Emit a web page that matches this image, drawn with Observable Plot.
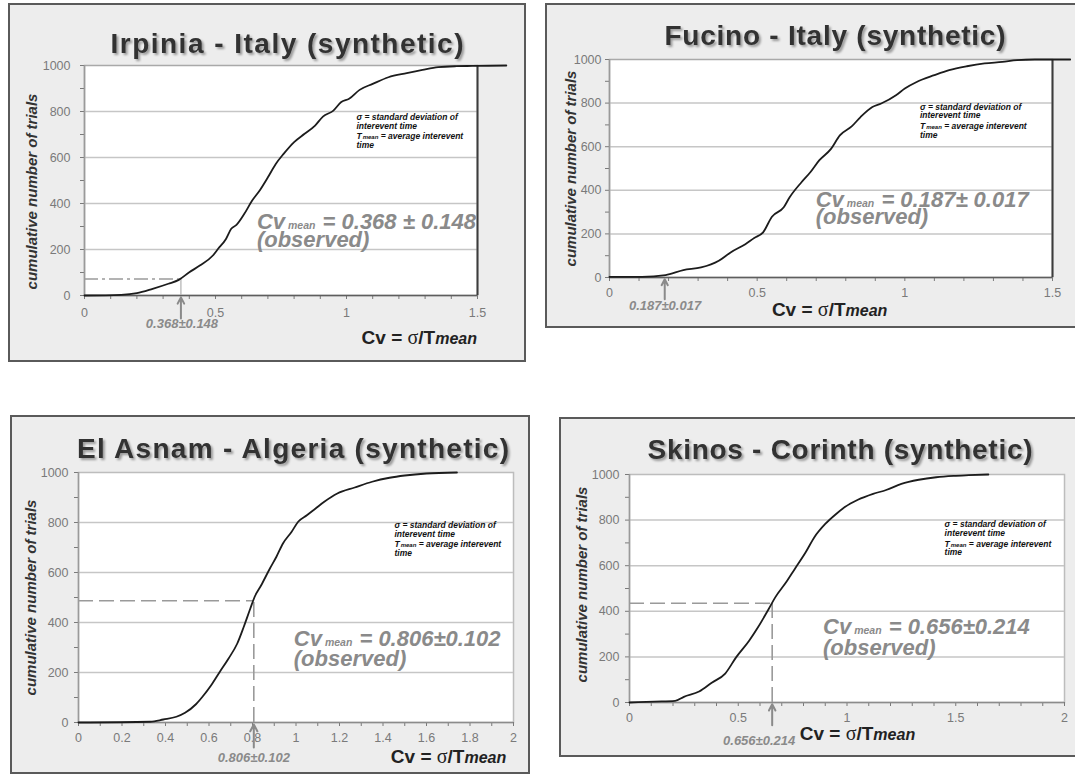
<!DOCTYPE html>
<html><head><meta charset="utf-8">
<script src="https://cdn.jsdelivr.net/npm/d3@7"></script>
<script src="https://cdn.jsdelivr.net/npm/@observablehq/plot@0.6"></script>
<style>
html,body{margin:0;padding:0;background:#fff;}
#page{position:relative;width:1075px;height:776px;overflow:hidden;}
.panel{position:absolute;box-sizing:border-box;background:#ededed;border:2px solid #5a5a5a;}
.chart{position:absolute;}
</style></head>
<body><div id="page"></div>
<script>
// ---------------- data ----------------
const panelTitles = ["Irpinia - Italy (synthetic)", "Fucino - Italy (synthetic)", "El Asnam - Algeria (synthetic)", "Skinos - Corinth (synthetic)"];
const yAxisTitle = "cumulative number of trials";

const irpiniaCv     = [0, 0.14, 0.2, 0.26, 0.32, 0.36, 0.4, 0.44, 0.49, 0.51, 0.54, 0.56, 0.58, 0.61, 0.64, 0.67, 0.7, 0.73, 0.76, 0.8, 0.84, 0.88, 0.91, 0.95, 0.98, 1.01, 1.05, 1.1, 1.16, 1.23, 1.29, 1.35, 1.42, 1.48, 1.61];
const irpiniaTrials = [0, 3, 10, 29, 51, 68, 101, 130, 174, 203, 246, 290, 307, 355, 413, 459, 514, 572, 616, 667, 703, 739, 778, 804, 841, 855, 894, 920, 949, 967, 981, 993, 997, 998, 1000];

const fucinoCv     = [0, 0.11, 0.19, 0.25, 0.31, 0.37, 0.41, 0.46, 0.49, 0.52, 0.55, 0.59, 0.61, 0.65, 0.68, 0.71, 0.75, 0.78, 0.82, 0.85, 0.89, 0.92, 0.97, 1.0, 1.04, 1.1, 1.15, 1.21, 1.27, 1.33, 1.38, 1.44, 1.56];
const fucinoTrials = [3, 3, 11, 34, 46, 77, 115, 153, 181, 207, 279, 322, 368, 437, 483, 537, 590, 652, 693, 736, 782, 798, 836, 867, 897, 928, 951, 969, 982, 989, 997, 1000, 1000];

const elAsnamCv     = [0, 0.33, 0.39, 0.45, 0.49, 0.54, 0.57, 0.61, 0.65, 0.69, 0.73, 0.76, 0.79, 0.81, 0.84, 0.88, 0.91, 0.94, 0.98, 1.01, 1.05, 1.09, 1.13, 1.19, 1.27, 1.35, 1.43, 1.5, 1.6, 1.74];
const elAsnamTrials = [0, 3, 12, 23, 39, 73, 103, 149, 203, 256, 316, 383, 456, 503, 549, 616, 663, 716, 763, 803, 829, 856, 883, 916, 940, 963, 979, 988, 996, 1000];

const skinosCv     = [0, 0.115, 0.21, 0.25, 0.32, 0.38, 0.44, 0.49, 0.55, 0.59, 0.64, 0.67, 0.72, 0.76, 0.81, 0.85, 0.9, 0.95, 0.99, 1.05, 1.12, 1.18, 1.25, 1.33, 1.41, 1.49, 1.56, 1.65];
const skinosTrials = [0, 4, 7, 25, 48, 88, 127, 198, 271, 329, 410, 461, 527, 586, 659, 725, 783, 827, 857, 889, 915, 932, 959, 977, 988, 994, 997, 1000];

const observedCv     = [0.368, 0.187, 0.806, 0.656];
const observedTrials = [72, 10, 487, 435];
const observedLabels = ["0.368±0.148", "0.187±0.017", "0.806±0.102", "0.656±0.214"];
const observedNotes  = ["0.368 ± 0.148", "0.187± 0.017", "0.806±0.102", "0.656±0.214"];

const yTicks      = [0, 100, 200, 300, 400, 500, 600, 700, 800, 900, 1000];
const yTickLabels = [0, 200, 400, 600, 800, 1000];
const gridValues  = [200, 400, 600, 800];
const xTicks15 = [0, 0.1, 0.2, 0.3, 0.4, 0.5, 0.6, 0.7, 0.8, 0.9, 1, 1.1, 1.2, 1.3, 1.4, 1.5];
const xTicks20 = [0, 0.1, 0.2, 0.3, 0.4, 0.5, 0.6, 0.7, 0.8, 0.9, 1, 1.1, 1.2, 1.3, 1.4, 1.5, 1.6, 1.7, 1.8, 1.9, 2];
const xLabels15     = [0, 0.5, 1, 1.5];
const xLabelsAsnam  = [0, 0.2, 0.4, 0.6, 0.8, 1, 1.2, 1.4, 1.6, 1.8, 2];
const xLabelsSkinos = [0, 0.5, 1, 1.5, 2];

const legendLine1 = "σ = standard deviation of";
const legendLine2 = "interevent time";
const legendLine3 = " = average interevent";
const legendLine4 = "time";

// ---------------- layout ----------------
const FONT = "'Liberation Sans', Arial, Helvetica, sans-serif";
const panels = [
  {i:0, cv:irpiniaCv, trials:irpiniaTrials, box:[8,3,518,359], m:[62,49,67,76], xDomain:[0,1.5], xTicks:xTicks15, xLabels:xLabels15,
   frame:"#a9a9a9", axis:"#5e5e5e", rightDark:true, title:[287,43,353], xPad:9, yPad:10,
   ref:{dash:"14,4,3,4", vert:"solid"}, obsLX:0.372, obsDy:32, yT:[-52,11],
   note:[0.66,286,17.4], legend:[1.04,761], xTitle:[1.5,49,"end"]},
  {i:1, cv:fucinoCv, trials:fucinoTrials, box:[545,3,540,325], m:[56,33,51,64], xDomain:[0,1.5], xTicks:xTicks15, xLabels:xLabels15,
   frame:"#a9a9a9", axis:"#5e5e5e", rightDark:true, title:[835,35,341], xPad:7, yPad:4,
   ref:null, obsLX:0.188, obsDy:32, yT:[-38,0],
   note:[0.70,322,17.3], legend:[1.053,767], xTitle:[0.747,39,"middle"]},
  {i:2, cv:elAsnamCv, trials:elAsnamTrials, box:[10,415,520,359], m:[57,17,52,68], xDomain:[0,2], xTicks:xTicks20, xLabels:xLabelsAsnam,
   frame:"#bdbdbd", axis:"#8c8c8c", rightDark:false, title:[293,448,432], xPad:7, yPad:6,
   ref:{dash:"15,6", vert:"dash"}, obsLX:0.806, obsDy:39.5, yT:[-47,0],
   note:[0.992,305,20.7], legend:[1.455,776], xTitle:[1.969,41,"end"]},
  {i:3, cv:skinosCv, trials:skinosTrials, box:[559,417,526,340], m:[57,21,55,70], xDomain:[0,2], xTicks:xTicks20, xLabels:xLabelsSkinos,
   frame:"#bdbdbd", axis:"#8c8c8c", rightDark:false, title:[840,449,385], xPad:7, yPad:6,
   ref:{dash:"15,6", vert:"dash"}, obsLX:0.596, obsDy:42.3, yT:[-47,-4],
   note:[0.892,300,21.7], legend:[1.451,766], xTitle:[0.785,38,"start"]}
];

const page = document.getElementById("page");
const fmt = d => String(+(+d).toFixed(2));

function drawPanel(P) {
  const [bl, bt, bw, bh] = P.box;
  const div = document.createElement("div");
  div.className = "panel";
  Object.assign(div.style, {left: bl + "px", top: bt + "px", width: bw + "px", height: bh + "px"});
  page.appendChild(div);

  const curve = P.cv.map((v, k) => ({cv: v, n: P.trials[k]}));
  const obs = [{v: observedCv[P.i], n: observedTrials[P.i], lx: P.obsLX, label: observedLabels[P.i], x0: P.xDomain[0], y0: 0}];
  const isLabeled = d => P.xLabels.some(l => Math.abs(l - d) < 1e-9);

  const marks = [
    Plot.frame({fill: "white", stroke: P.frame, strokeWidth: 1.5}),
    Plot.ruleY(gridValues, {stroke: "#c6c6c6", strokeWidth: 1.5}),
    Plot.axisY({ticks: yTicks, tickFormat: d => yTickLabels.includes(d) ? String(d) : "", tickSize: 4, tickPadding: P.yPad,
                fontSize: 12.5, color: "#7a7a7a", label: null}),
    Plot.axisX({ticks: P.xTicks, tickFormat: d => isLabeled(d) ? fmt(d) : "", tickSize: 4, tickPadding: P.xPad,
                fontSize: 12.5, color: "#7a7a7a", label: null}),
    Plot.ruleX([P.xDomain[0]], {stroke: "#9a9a9a", strokeWidth: 1.5}),
    Plot.ruleY([0], {stroke: P.axis, strokeWidth: 1.6})
  ];
  if (P.rightDark) marks.push(Plot.ruleX([P.xDomain[1]], {stroke: "#3c3c3c", strokeWidth: 2}));
  if (P.ref) {
    marks.push(Plot.ruleY(obs, {y: "n", x1: "x0", x2: "v", stroke: "#9a9a9a", strokeWidth: 1.6, strokeDasharray: P.ref.dash}));
    if (P.ref.vert === "dash")
      marks.push(Plot.ruleX(obs, {x: "v", y1: "y0", y2: "n", stroke: "#9a9a9a", strokeWidth: 1.6, strokeDasharray: P.ref.dash}));
    else
      marks.push(Plot.ruleX(obs, {x: "v", y1: "y0", y2: "n", stroke: "#b0b0b0", strokeWidth: 1.2}));
  }
  marks.push(Plot.arrow(obs, {x: "v", y1: -100, y2: -8, stroke: "#8a8a8a", strokeWidth: 2, headLength: 9, headAngle: 55}));
  marks.push(Plot.line(curve, {x: "cv", y: "n", stroke: "#1c1c1c", strokeWidth: 1.8, curve: "monotone-x"}));
  marks.push(Plot.text(obs, {x: "lx", text: "label", frameAnchor: "bottom", dy: P.obsDy, fontSize: 13,
                             fontWeight: "bold", fontStyle: "italic", fill: "#8a8a8a"}));
  marks.push(Plot.text([yAxisTitle], {frameAnchor: "left", textAnchor: "middle", lineAnchor: "middle", rotate: -90,
                                      dx: P.yT[0], dy: P.yT[1], fontSize: 15,
                                      fontWeight: "bold", fontStyle: "italic", fill: "#333"}));

  const chart = Plot.plot({
    width: bw, height: bh,
    marginTop: P.m[0], marginRight: P.m[1], marginBottom: P.m[2], marginLeft: P.m[3],
    style: {background: "transparent", fontFamily: FONT, overflow: "visible"},
    x: {domain: P.xDomain},
    y: {domain: [0, 1000]},
    marks
  });
  chart.classList.add("chart");
  chart.style.left = bl + "px";
  chart.style.top = bt + "px";
  page.appendChild(chart);

  const X = v => chart.scale("x").apply(v);
  const Y = v => chart.scale("y").apply(v);
  const svg = d3.select(chart);
  const fid = "shadow" + P.i;
  svg.append("defs").append("filter").attr("id", fid).attr("x", "-10%").attr("y", "-30%").attr("width", "120%").attr("height", "160%")
    .append("feDropShadow").attr("dx", 2).attr("dy", 2).attr("stdDeviation", 1.2)
    .attr("flood-color", "#000").attr("flood-opacity", 0.35);
  const g = svg.append("g").attr("font-family", FONT).attr("text-anchor", "start");

  // title
  g.append("text").attr("x", P.title[0] - bl).attr("y", P.title[1] - bt)
    .attr("text-anchor", "middle").attr("dominant-baseline", "central")
    .attr("font-size", 28).attr("font-weight", "bold").attr("fill", "#333")
    .attr("textLength", P.title[2]).attr("lengthAdjust", "spacing")
    .attr("filter", `url(#${fid})`).text(panelTitles[P.i]);

  // observed note (one text block, two lines)
  const nx = X(P.note[0]), ny = Y(P.note[1]);
  const t1 = g.append("text").attr("x", nx).attr("y", ny).attr("font-size", 22)
    .attr("font-weight", "bold").attr("font-style", "italic").attr("fill", "#8a8a8a");
  t1.append("tspan").text("Cv");
  t1.append("tspan").attr("dx", 3).attr("font-size", 10.5).text("mean");
  t1.append("tspan").attr("dx", 1).text(" = " + observedNotes[P.i]);
  t1.append("tspan").attr("x", nx).attr("dy", P.note[2]).text("(observed)");

  // small legend (one text block, four lines)
  const lx = X(P.legend[0]), ly = Y(P.legend[1]);
  const lg = g.append("text").attr("x", lx).attr("y", ly).attr("font-size", 8.5).attr("font-weight", "bold")
    .attr("font-style", "italic").attr("fill", "#111");
  lg.append("tspan").text(legendLine1);
  lg.append("tspan").attr("x", lx).attr("dy", 8.7).text(legendLine2);
  lg.append("tspan").attr("x", lx).attr("dy", 10.6).text("T");
  lg.append("tspan").attr("dx", 1).attr("font-size", 6).text("mean");
  lg.append("tspan").text(legendLine3);
  lg.append("tspan").attr("x", lx).attr("dy", 8.7).text(legendLine4);

  // x axis title
  const xt = g.append("text").attr("x", X(P.xTitle[0])).attr("y", Y(0) + P.xTitle[1])
    .attr("text-anchor", P.xTitle[2]).attr("font-size", 19).attr("font-weight", "bold").attr("fill", "#222");
  xt.append("tspan").text("Cv = ");
  xt.append("tspan").attr("font-family", "'Liberation Serif','DejaVu Serif',serif").attr("font-weight", "normal").attr("font-size", 20).text("σ");
  xt.append("tspan").text("/T");
  xt.append("tspan").attr("font-style", "italic").attr("font-size", 16).text("mean");
}

panels.forEach(drawPanel);
</script>
</body></html>
